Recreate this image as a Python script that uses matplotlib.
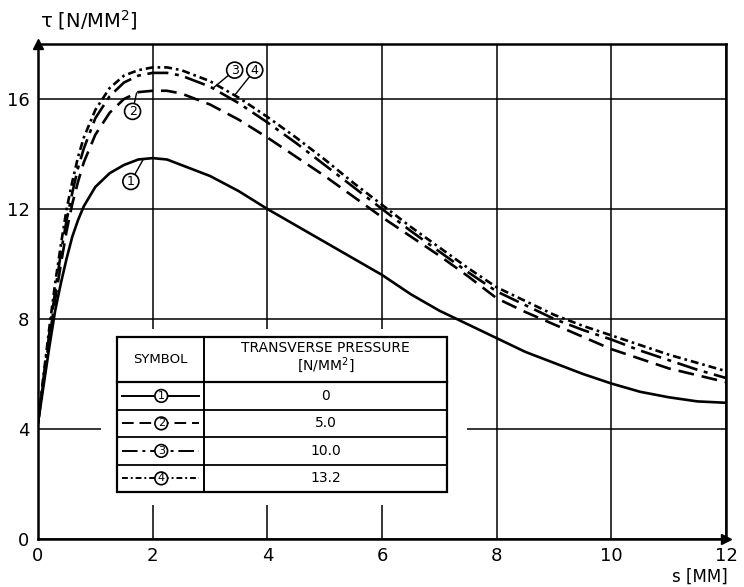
import numpy as np
import matplotlib
matplotlib.use("Agg")
import matplotlib.pyplot as plt
from matplotlib.patches import Rectangle

# slip s [mm] and shear stress tau [N/mm2]
s = [0, 0.1, 0.2, 0.3, 0.4, 0.5, 0.6, 0.7, 0.8, 1.0, 1.25, 1.5, 1.75, 2.0,
     2.25, 2.5, 3.0, 3.5, 4.0, 4.5, 5.0, 5.5, 6.0, 6.5, 7.0, 7.5, 8.0,
     8.5, 9.0, 9.5, 10.0, 10.5, 11.0, 11.5, 12.0]

tau_p0 = [4.2, 5.6, 7.0, 8.3, 9.3, 10.2, 11.0, 11.6, 12.1, 12.8, 13.3, 13.6, 13.8, 13.85,
          13.8, 13.6, 13.2, 12.65, 12.0, 11.4, 10.8, 10.2, 9.6, 8.9, 8.3, 7.8, 7.3,
          6.8, 6.4, 6.0, 5.65, 5.35, 5.15, 5.0, 4.95]
tau_p5 = [4.2, 5.8, 7.3, 8.7, 10.0, 11.2, 12.2, 13.0, 13.7, 14.7, 15.5, 16.0, 16.25, 16.3,
          16.3, 16.2, 15.8, 15.25, 14.6, 13.9, 13.2, 12.45, 11.7, 11.0, 10.3, 9.55, 8.75,
          8.25, 7.8, 7.35, 6.9, 6.55, 6.2, 5.95, 5.7]
tau_p10 = [4.2, 5.9, 7.5, 9.0, 10.4, 11.6, 12.6, 13.5, 14.2, 15.3, 16.1, 16.6, 16.85, 16.95,
           16.95, 16.85, 16.45, 15.85, 15.15, 14.4, 13.6, 12.8, 12.0, 11.2, 10.45, 9.7, 9.0,
           8.5, 8.0, 7.6, 7.25, 6.85, 6.5, 6.15, 5.85]
tau_p13 = [4.2, 6.0, 7.7, 9.3, 10.7, 12.0, 13.0, 13.9, 14.6, 15.6, 16.4, 16.85, 17.05, 17.15,
           17.15, 17.05, 16.65, 16.05, 15.35, 14.6, 13.8, 12.95, 12.15, 11.35, 10.6, 9.85, 9.15,
           8.65, 8.15, 7.75, 7.4, 7.05, 6.7, 6.4, 6.1]

symbols = ["1", "2", "3", "4"]
pressures = ["0", "5.0", "10.0", "13.2"]
curves = [tau_p0, tau_p5, tau_p10, tau_p13]
styles = ["-", (0, (6, 3)), (0, (8, 2.5, 1.5, 2.5)), (0, (3, 1.5, 1, 1.5))]

x_ticks = [0, 2, 4, 6, 8, 10, 12]
y_ticks = [0, 4, 8, 12, 16]

fig = plt.figure(figsize=(7.44, 5.87), dpi=100)
ax = fig.add_axes([0.051, 0.082, 0.925, 0.843])

for y, ls in zip(curves, styles):
    ax.plot(s, y, color="black", lw=1.9, linestyle=ls, zorder=3)

ax.set_xlim(0, 12)
ax.set_ylim(0, 18)
ax.set_xticks(x_ticks)
ax.set_yticks(y_ticks)
ax.tick_params(length=0, labelsize=13, pad=6)
ax.grid(True, color="black", lw=1.1)
for sp in ax.spines.values():
    sp.set_linewidth(1.8)

# arrow heads on the axes
ax.plot(1, 0, ">k", ms=7, transform=ax.transAxes, clip_on=False)
ax.plot(0, 1, "^k", ms=7, transform=ax.transAxes, clip_on=False)

fig.text(0.054, 0.965, "τ [N/MM$^2$]", fontsize=14, va="center")
fig.text(0.978, 0.018, "s [MM]", fontsize=12, ha="right", va="center")

# circled curve labels with leader lines
circ = dict(boxstyle="circle,pad=0.12", fc="white", ec="black", lw=1.2)
labels = [(0, 1.84, 1.62, 13.0), (1, 1.72, 1.65, 15.55),
          (2, 3.05, 3.43, 17.05), (3, 3.43, 3.78, 17.05)]
for i, xc, xt, yt in labels:
    yc = np.interp(xc, s, curves[i])
    ax.annotate(symbols[i], xy=(xc, yc), xytext=(xt, yt), fontsize=9,
                ha="center", va="center", bbox=circ, zorder=5,
                arrowprops=dict(arrowstyle="-", lw=1, color="black",
                                shrinkA=0, shrinkB=0))

# legend table
tx0, tx1, tx2 = 1.38, 2.9, 7.14
ty_top, ty_head, ty_bot = 7.35, 5.7, 1.7
ax.add_patch(Rectangle((tx0 - 0.28, ty_bot - 0.45), tx2 - tx0 + 0.62,
                       ty_top - ty_bot + 0.75, fc="white", ec="none", zorder=4))
ax.add_patch(Rectangle((tx0, ty_bot), tx2 - tx0, ty_top - ty_bot,
                       fc="white", ec="black", lw=1.6, zorder=4))
ax.plot([tx1, tx1], [ty_bot, ty_top], color="black", lw=1.4, zorder=5)
ax.plot([tx0, tx2], [ty_head, ty_head], color="black", lw=1.6, zorder=5)
ax.text((tx0 + tx1) / 2, (ty_top + ty_head) / 2, "SYMBOL", fontsize=9.5,
        ha="center", va="center", zorder=6)
ax.text((tx1 + tx2) / 2, (ty_top + ty_head) / 2 + 0.05,
        "TRANSVERSE PRESSURE\n[N/MM$^2$]", fontsize=10, ha="center",
        va="center", linespacing=1.0, zorder=6)
row_h = (ty_head - ty_bot) / len(symbols)
for k, (sym, p, ls) in enumerate(zip(symbols, pressures, styles)):
    yc = ty_head - (k + 0.5) * row_h
    if k > 0:
        yl = ty_head - k * row_h
        ax.plot([tx0, tx2], [yl, yl], color="black", lw=1.3, zorder=5)
    ax.plot([tx0 + 0.08, tx1 - 0.1], [yc, yc], color="black", lw=1.4,
            linestyle=ls, zorder=5)
    ax.text(tx0 + 0.77, yc, sym, fontsize=8, ha="center", va="center",
            bbox=circ, zorder=6)
    ax.text((tx1 + tx2) / 2, yc, p, fontsize=10, ha="center", va="center",
            zorder=6)

fig.savefig("out.png", dpi=100)
